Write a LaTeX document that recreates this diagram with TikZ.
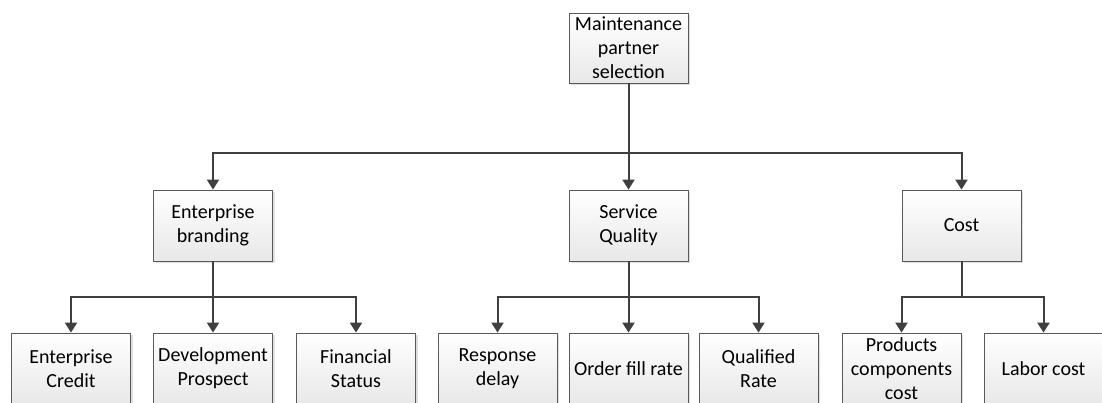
\documentclass[tikz,border=0pt]{standalone}
\usepackage{fontspec}
\setmainfont{Carlito}
\usepackage{xcolor}
\usetikzlibrary{arrows.meta, shadows}

\definecolor{linegray}{HTML}{404040}
\definecolor{boxgray}{HTML}{595959}

\begin{document}
\begin{tikzpicture}[
  x=1pt, y=-1pt,
  block/.style={rectangle, draw=boxgray, line width=0.8pt, minimum width=119pt,
    minimum height=71pt, inner sep=1pt, align=center, top color=white,
    bottom color=gray!18, drop shadow={opacity=0.25, shadow xshift=2pt, shadow yshift=-2pt},
    font=\fontsize{20}{24}\selectfont},
  arrow/.style={-{Triangle[length=10pt, width=12pt]}, line width=2pt, linegray},
  link/.style={line width=2pt, linegray},
]
\useasboundingbox (0,0) rectangle (1102,403);

\node[block, minimum height=70pt] (top) at (628.5,48) {Maintenance\\partner\\selection};

\node[block] (brand) at (213,225.5) {Enterprise\\branding};
\node[block] (quality) at (628.5,225.5) {Service\\Quality};
\node[block] (cost) at (961.5,225.5) {Cost};

\node[block] (credit) at (71,368.5) {Enterprise\\Credit};
\node[block] (prospect) at (213,368.5) {Development\\Prospect};
\node[block] (finance) at (356,368.5) {Financial\\Status};
\node[block] (delay) at (497.5,368.5) {Response\\delay};
\node[block] (fill) at (628.5,368.5) {Order fill rate};
\node[block] (rate) at (758.5,368.5) {Qualified\\Rate};
\node[block] (parts) at (901.5,368.5) {Products\\components\\cost};
\node[block] (labor) at (1043.5,368.5) {Labor cost};

\coordinate (bus) at (628.5,153);
\coordinate (brandbus) at (213,297);
\coordinate (qualitybus) at (628.5,297);
\coordinate (costbus) at (961.5,297);

\draw[link] (top.south) -- (bus);
\draw[arrow] (bus) -| (brand.north);
\draw[arrow] (bus) -- (quality.north);
\draw[arrow] (bus) -| (cost.north);

\draw[link] (brand.south) -- (brandbus);
\draw[arrow] (brandbus) -| (credit.north);
\draw[arrow] (brandbus) -- (prospect.north);
\draw[arrow] (brandbus) -| (finance.north);

\draw[link] (quality.south) -- (qualitybus);
\draw[arrow] (qualitybus) -| (delay.north);
\draw[arrow] (qualitybus) -- (fill.north);
\draw[arrow] (qualitybus) -| (rate.north);

\draw[link] (cost.south) -- (costbus);
\draw[arrow] (costbus) -| (parts.north);
\draw[arrow] (costbus) -| (labor.north);
\end{tikzpicture}
\end{document}
